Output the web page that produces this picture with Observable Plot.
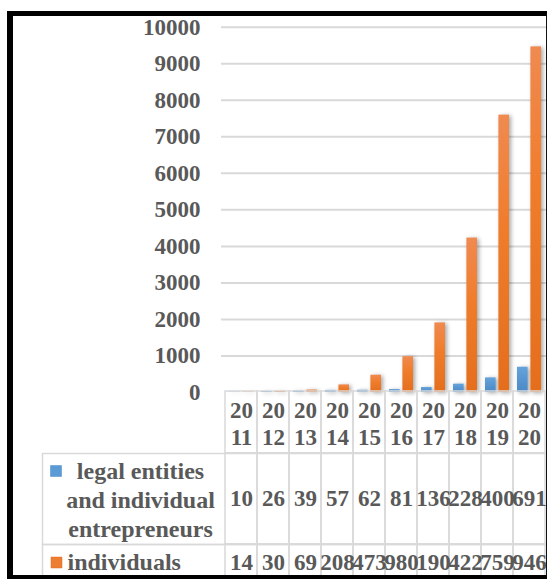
<!DOCTYPE html>
<html>
<head>
<meta charset="utf-8">
<script src="https://cdn.jsdelivr.net/npm/d3@7"></script>
<script src="https://cdn.jsdelivr.net/npm/@observablehq/plot@0.6"></script>
<style>
html, body { margin: 0; padding: 0; background: #fff; overflow: hidden; width: 547px; height: 579px; }
#frame { position: absolute; left: 7px; top: 11px; width: 539.5px; height: 568px; box-sizing: border-box;
  border-left: 6px solid #000; border-top: 5px solid #000; border-right: 1.5px solid #111; border-bottom: 4px solid #000;
  overflow: hidden; background: #fff; }
#page { position: absolute; left: -13px; top: -16px; width: 560px; height: 600px; }
#page svg { position: absolute; left: 0; max-width: none; }
</style>
</head>
<body>
<div id="frame"><div id="page"></div></div>
<script>
// ---- data ----
const years = ["2011", "2012", "2013", "2014", "2015", "2016", "2017", "2018", "2019", "2020"];
const legalEntities = [10, 26, 39, 57, 62, 81, 136, 228, 400, 691];
const individuals = [14, 30, 69, 208, 473, 980, 1904, 4227, 7592, 9461];
const yTicks = [0, 1000, 2000, 3000, 4000, 5000, 6000, 7000, 8000, 9000, 10000];
const seriesNames = ["legal entities\nand individual\nentrepreneurs", "individuals"];

// ---- styling ----
const blue = "#5b9bd5", orange = "#ed7d31";
const gridColor = "#d9d9d9";
const textStyle = "font-family: 'Liberation Serif', 'Times New Roman', serif; font-size: 23px; font-weight: bold; color: #595959; background: transparent; overflow: visible;";
const xBand = {type: "band", domain: years, range: [221, 548], padding: 0, axis: null};

const legalRows = years.map((year, i) => ({year, value: legalEntities[i]}));
const indivRows = years.map((year, i) => ({year, value: individuals[i]}));

const page = document.getElementById("page");
function place(svg, top) { svg.style.top = top + "px"; page.appendChild(svg); return svg; }

// ---- bar chart ----
const chart = Plot.plot({
  width: 560, height: 392,
  marginLeft: 221, marginRight: 12, marginTop: 26.7, marginBottom: 0,
  style: textStyle,
  x: xBand,
  y: {domain: [0, 10000], axis: null, label: null},
  marks: [
    Plot.gridY(yTicks.filter(t => t > 0), {stroke: gridColor, strokeOpacity: 1, strokeWidth: 2}),
    Plot.axisY(yTicks, {tickSize: 0, tickPadding: 21, tickFormat: d => String(d), label: null, fill: "#595959", fontSize: 23}),
    Plot.barY(legalRows, {x: "year", y: "value", fill: "url(#gradLegal)", insetLeft: 4, insetRight: 17.4}),
    Plot.barY(indivRows, {x: "year", y: "value", fill: "url(#gradIndiv)", insetLeft: 17.4, insetRight: 4})
  ]
});
chart.insertAdjacentHTML("afterbegin",
  `<defs>
    <linearGradient id="gradLegal" x1="0" y1="0" x2="0" y2="1"><stop offset="0" stop-color="#65a3dc"/><stop offset="1" stop-color="#4a88c7"/></linearGradient>
    <linearGradient id="gradIndiv" x1="0" y1="0" x2="0" y2="1"><stop offset="0" stop-color="#f08a50"/><stop offset="0.4" stop-color="#f07d2c"/><stop offset="1" stop-color="#e46e1c"/></linearGradient>
  </defs>`);
chart.querySelectorAll('g[aria-label="bar"]').forEach(g => g.style.filter = "drop-shadow(2px 1px 2px rgba(0,0,0,0.35))");
place(chart, 0);

// ---- data table: header row ----
const header = Plot.plot({
  width: 560, height: 62, marginLeft: 221, marginRight: 12, marginTop: 0, marginBottom: 0,
  style: textStyle, x: xBand,
  marks: [
    Plot.cell(years, {x: d => d, fill: "none", stroke: gridColor, strokeWidth: 1.5, inset: 0}),
    Plot.text(years, {x: d => d, text: d => d.slice(0, 2) + "\n" + d.slice(2), frameAnchor: "middle", lineHeight: 1.2, fill: "#595959", fontSize: 23})
  ]
});
place(header, 391);

// ---- data table: legal entities row ----
const row1 = Plot.plot({
  width: 560, height: 91, marginLeft: 42, marginRight: 12, marginTop: 0, marginBottom: 0,
  style: textStyle, x: xBand,
  marks: [
    Plot.frame({stroke: gridColor, strokeWidth: 1.5}),
    Plot.cell(legalRows, {x: "year", fill: "none", stroke: gridColor, strokeWidth: 1.5, inset: 0}),
    Plot.text(legalRows, {x: "year", text: d => String(d.value), frameAnchor: "middle", fill: "#595959", fontSize: 23}),
    Plot.dot([seriesNames[0]], {frameAnchor: "top-left", dx: 13.5, dy: 17.5, symbol: "square", r: 6.2, fill: blue, stroke: "#4a88c7", strokeWidth: 0.5}),
    Plot.text([seriesNames[0]], {text: d => d, frameAnchor: "left", dx: 98, textAnchor: "middle", lineHeight: 1.2, fill: "#595959", fontSize: 24})
  ]
});
place(row1, 453);

// ---- data table: individuals row ----
const row2 = Plot.plot({
  width: 560, height: 36, marginLeft: 42, marginRight: 12, marginTop: 0, marginBottom: 0,
  style: textStyle, x: xBand,
  marks: [
    Plot.frame({stroke: gridColor, strokeWidth: 1.5}),
    Plot.cell(indivRows, {x: "year", fill: "none", stroke: gridColor, strokeWidth: 1.5, inset: 0}),
    // the original cells are too narrow: 4-digit values are cut to their first three digits
    Plot.text(indivRows, {x: "year", text: d => String(d.value).slice(0, 3), frameAnchor: "middle", fill: "#595959", fontSize: 23}),
    Plot.dot([seriesNames[1]], {frameAnchor: "left", dx: 14, symbol: "square", r: 6.2, fill: orange, stroke: "#e46e1c", strokeWidth: 0.5}),
    Plot.text([seriesNames[1]], {text: d => d, frameAnchor: "left", dx: 25, textAnchor: "start", fill: "#595959", fontSize: 24})
  ]
});
place(row2, 544);
</script>
</body>
</html>
